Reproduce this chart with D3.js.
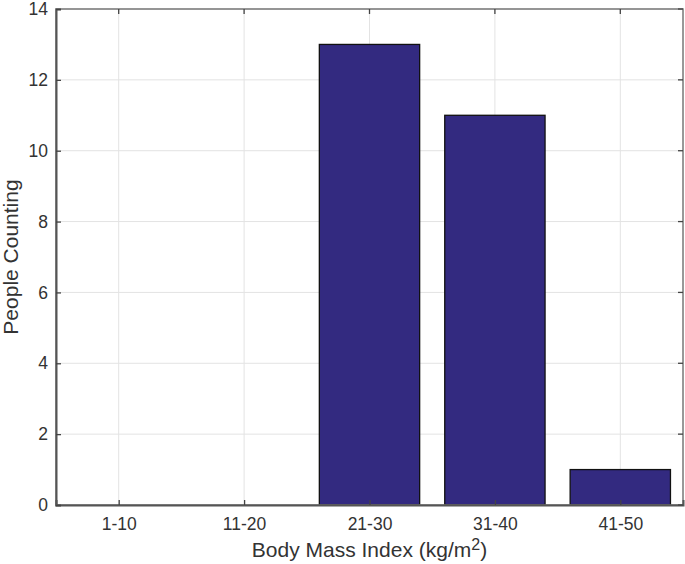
<!DOCTYPE html>
<html><head><meta charset="utf-8">
<script src="https://cdn.jsdelivr.net/npm/d3@7"></script>
<style>body{margin:0;background:#fff;} text{font-family:"Liberation Sans",Arial,sans-serif;}</style>
</head><body>
<svg id="c" width="685" height="564"></svg>
<script>
const categories = ["1-10","11-20","21-30","31-40","41-50"];
const counts = [0, 0, 13, 11, 1];
const yTicks = [0,2,4,6,8,10,12,14];

const W=685,H=564;
const m={left:56,right:2,top:9,bottom:59};
const svg=d3.select("#c");
const xc=d3.scalePoint().domain(categories).range([m.left,W-m.right]).padding(0.5);
const bw=(W-m.left-m.right)/categories.length*0.8;
const y=d3.scaleLinear().domain([0,14]).range([H-m.bottom,m.top]);
const x0=m.left,x1=W-m.right,y0=H-m.bottom,y1=m.top;

// grid
svg.append("g").selectAll("line").data(categories).join("line")
  .attr("x1",d=>xc(d)).attr("x2",d=>xc(d)).attr("y1",y0).attr("y2",y1)
  .attr("stroke","#e3e3e3").attr("stroke-width",1);
svg.append("g").selectAll("line").data(yTicks).join("line")
  .attr("y1",d=>y(d)).attr("y2",d=>y(d)).attr("x1",x0).attr("x2",x1)
  .attr("stroke","#e3e3e3").attr("stroke-width",1);

// bars
svg.append("g").selectAll("rect").data(categories).join("rect")
  .attr("x",d=>xc(d)-bw/2).attr("width",bw)
  .attr("y",(d,i)=>y(counts[i])).attr("height",(d,i)=>y(0)-y(counts[i]))
  .attr("fill","#332a80").attr("stroke","#111").attr("stroke-width",1.3);

// box
svg.append("rect").attr("x",x0).attr("y",y1).attr("width",x1-x0).attr("height",y0-y1)
  .attr("fill","none").attr("stroke","#777").attr("stroke-width",1.5);

// axes
const xa=svg.append("g").attr("transform",`translate(0,${y0})`)
  .call(d3.axisBottom(xc).tickSize(-5).tickPadding(13));
const ya=svg.append("g").attr("transform",`translate(${x0},0)`)
  .call(d3.axisLeft(y).tickValues(yTicks).tickSize(-5).tickPadding(8));
[xa,ya].forEach(a=>{
  a.select(".domain").attr("stroke","#555").attr("stroke-width",2);
  a.selectAll(".tick line").attr("stroke","#444").attr("stroke-width",1.3);
  a.selectAll("text").attr("font-size",17.5).attr("fill","#333").attr("font-family","Liberation Sans, Arial, sans-serif");
});
// top and right ticks
svg.append("g").selectAll("line").data(categories).join("line")
  .attr("x1",d=>xc(d)).attr("x2",d=>xc(d)).attr("y1",y1).attr("y2",y1+5).attr("stroke","#444").attr("stroke-width",1.3);
svg.append("g").selectAll("line").data(yTicks).join("line")
  .attr("y1",d=>y(d)).attr("y2",d=>y(d)).attr("x1",x1).attr("x2",x1-5).attr("stroke","#444").attr("stroke-width",1.3);

// labels
const xl=svg.append("text").attr("x",(x0+x1)/2).attr("y",557).attr("text-anchor","middle")
  .attr("font-size",21).attr("fill","#333");
xl.append("tspan").text("Body Mass Index (kg/m");
xl.append("tspan").attr("dy",-7).attr("font-size",16).text("2");
xl.append("tspan").attr("dy",7).text(")");
svg.append("text").attr("transform",`translate(18,${(y0+y1)/2}) rotate(-90)`).attr("text-anchor","middle")
  .attr("font-size",21).attr("fill","#333").text("People Counting");
</script>
</body></html>
